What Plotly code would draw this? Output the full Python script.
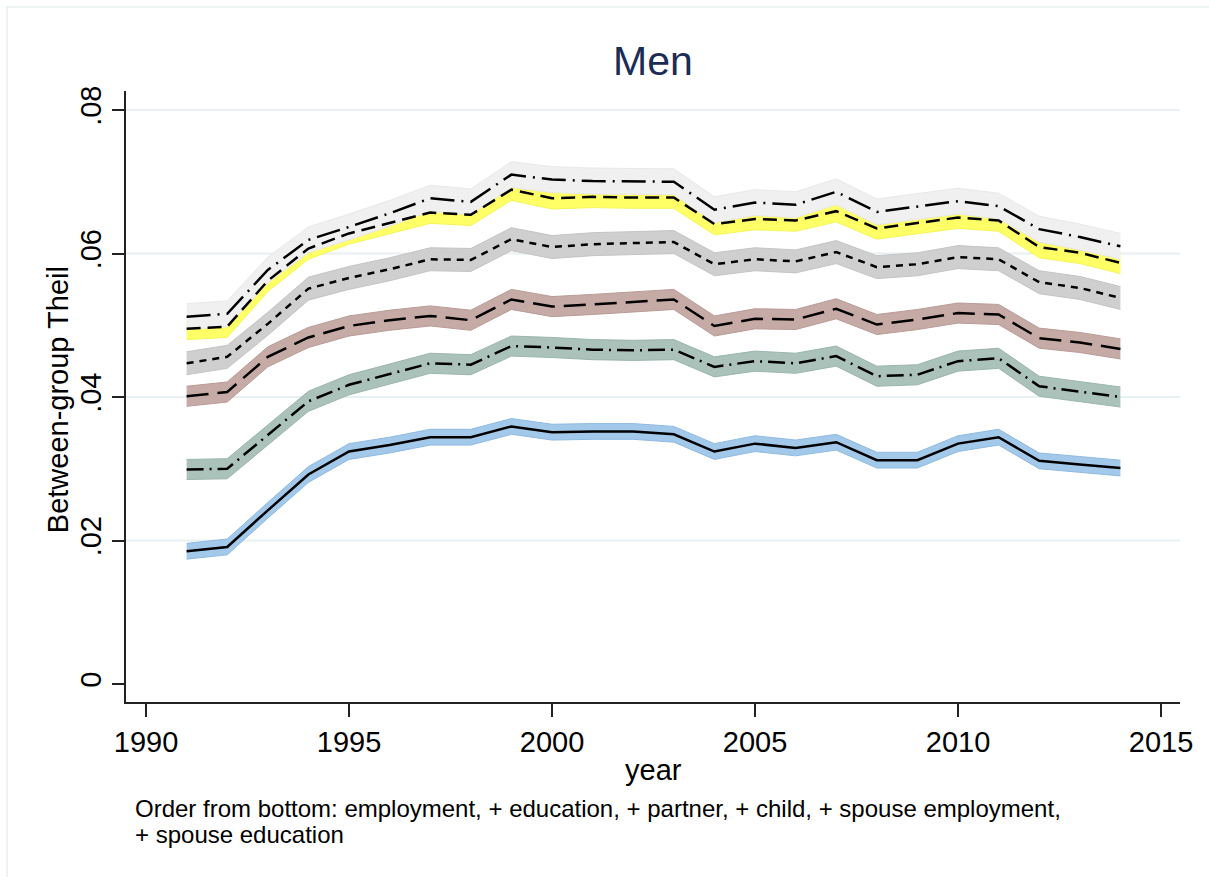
import plotly.graph_objects as go

# Between-group Theil index for men, by year, for nested decompositions
years = list(range(1991, 2015))

employment = [0.0185, 0.0191, 0.0242, 0.0292, 0.0324, 0.0333, 0.0344, 0.0344,
              0.0359, 0.0351, 0.0352, 0.0352, 0.0348, 0.0324, 0.0335, 0.0329,
              0.0337, 0.0312, 0.0312, 0.0335, 0.0344, 0.0311, 0.0306, 0.0301]
education = [0.0299, 0.0300, 0.0347, 0.0394, 0.0417, 0.0432, 0.0447, 0.0445,
             0.0471, 0.0469, 0.0466, 0.0465, 0.0466, 0.0442, 0.0450, 0.0447,
             0.0457, 0.0429, 0.0431, 0.0450, 0.0454, 0.0415, 0.0408, 0.0400]
partner = [0.0401, 0.0407, 0.0456, 0.0483, 0.0499, 0.0507, 0.0513, 0.0507,
           0.0536, 0.0526, 0.0529, 0.0533, 0.0536, 0.0499, 0.0509, 0.0508,
           0.0523, 0.0501, 0.0508, 0.0517, 0.0515, 0.0482, 0.0476, 0.0467]
child = [0.0447, 0.0456, 0.0502, 0.0551, 0.0566, 0.0578, 0.0592, 0.0591,
         0.0620, 0.0609, 0.0613, 0.0614, 0.0616, 0.0585, 0.0592, 0.0589,
         0.0602, 0.0581, 0.0585, 0.0595, 0.0592, 0.0560, 0.0552, 0.0538]
spouse_employment = [0.0495, 0.0498, 0.0562, 0.0607, 0.0628, 0.0642, 0.0657, 0.0654,
                     0.0689, 0.0677, 0.0679, 0.0678, 0.0678, 0.0641, 0.0648, 0.0646,
                     0.0659, 0.0635, 0.0642, 0.0650, 0.0646, 0.0609, 0.0601, 0.0587]
spouse_education = [0.0512, 0.0516, 0.0577, 0.0619, 0.0637, 0.0656, 0.0677, 0.0672,
                    0.0710, 0.0703, 0.0701, 0.0700, 0.0700, 0.0661, 0.0671, 0.0668,
                    0.0686, 0.0658, 0.0666, 0.0673, 0.0666, 0.0634, 0.0623, 0.0610]

# half-width of the confidence band around each series
ci_halfwidth = [0.0011, 0.0014, 0.0014, 0.0016, 0.0015, 0.0018]

y_tickvals = [0, 0.02, 0.04, 0.06, 0.08]
y_ticktext = ["0", ".02", ".04", ".06", ".08"]
x_tickvals = [1990, 1995, 2000, 2005, 2010, 2015]

series = [employment, education, partner, child, spouse_employment, spouse_education]
band_fill = ["#a2c8ea", "#aac2b9", "#c6aaa5", "#cfcfcf", "#ffff66", "#f0f0f0"]
band_edge = ["#90bbe2", "#9bb6ac", "#b99b96", "#c4c4c4", "#f5f55a", "#e8e8e8"]
dashes = ["solid", "17px,6px,2px,6px", "22px,9px", "7px,6px", "14px,7px", "24px,7px,2px,7px"]

FONT = "Liberation Sans, Arial, Helvetica, sans-serif"

fig = go.Figure()

# confidence bands first, stacked bottom to top
for vals, hw, fc, ec in zip(series, ci_halfwidth, band_fill, band_edge):
    lo = [v - hw for v in vals]
    hi = [v + hw for v in vals]
    fig.add_trace(go.Scatter(x=years, y=lo, mode="lines",
                             line=dict(color=ec, width=1), hoverinfo="skip",
                             showlegend=False))
    fig.add_trace(go.Scatter(x=years, y=hi, mode="lines", fill="tonexty",
                             fillcolor=fc, line=dict(color=ec, width=1),
                             hoverinfo="skip", showlegend=False))

# point estimates on top
for vals, dash in zip(series, dashes):
    fig.add_trace(go.Scatter(x=years, y=vals, mode="lines",
                             line=dict(color="black", width=2.5, dash=dash),
                             showlegend=False))

# horizontal grid at the labelled levels above zero
for v in y_tickvals:
    if v > 0:
        fig.add_shape(type="line", xref="paper", yref="y", x0=0, x1=1, y0=v, y1=v,
                      line=dict(color="#e7f0f2", width=2), layer="below")

# light frame around the graph region
fig.add_shape(type="rect", xref="paper", yref="paper",
              x0=-0.1129, x1=1.04, y0=-0.31, y1=1.1375,
              line=dict(color="#e8eef0", width=1.5), layer="below")

fig.update_layout(
    width=1209, height=877,
    margin=dict(l=126, r=29, t=91, b=175),
    paper_bgcolor="white", plot_bgcolor="white",
    font=dict(family=FONT, color="black", size=29),
    xaxis=dict(range=[1989.507, 2015.468], tickvals=x_tickvals,
               showgrid=False, zeroline=False, showline=True,
               linecolor="#222222", linewidth=1.5,
               ticks="outside", ticklen=13, tickwidth=1.5, tickcolor="#222222",
               tickfont=dict(size=29, family=FONT)),
    yaxis=dict(range=[-0.00251, 0.08265], tickvals=y_tickvals, ticktext=y_ticktext,
               tickangle=-90, showgrid=False, zeroline=False, showline=True,
               linecolor="#222222", linewidth=1.5,
               ticks="outside", ticklen=12, tickwidth=1.5, tickcolor="#222222",
               tickfont=dict(size=29, family=FONT)),
    annotations=[
        dict(text="Men", xref="paper", yref="paper", x=0.5, y=1.049,
             xanchor="center", yanchor="middle", showarrow=False,
             font=dict(size=41, color="#1c2d55", family=FONT)),
        dict(text="Between-group Theil", xref="paper", yref="paper",
             x=-0.0645, y=0.494, textangle=-90, xanchor="center", yanchor="middle",
             showarrow=False, font=dict(size=29, family=FONT)),
        dict(text="year", xref="paper", yref="paper", x=0.5, y=-0.1113,
             xanchor="center", yanchor="middle", showarrow=False,
             font=dict(size=29, family=FONT)),
        dict(text="Order from bottom: employment, + education, + partner, + child, + spouse employment,",
             xref="paper", yref="paper", x=0.00664, y=-0.1735,
             xanchor="left", yanchor="middle", showarrow=False,
             font=dict(size=24, family=FONT)),
        dict(text="+ spouse education",
             xref="paper", yref="paper", x=0.00664, y=-0.2175,
             xanchor="left", yanchor="middle", showarrow=False,
             font=dict(size=24, family=FONT)),
    ],
)

fig.write_html("out.html")
